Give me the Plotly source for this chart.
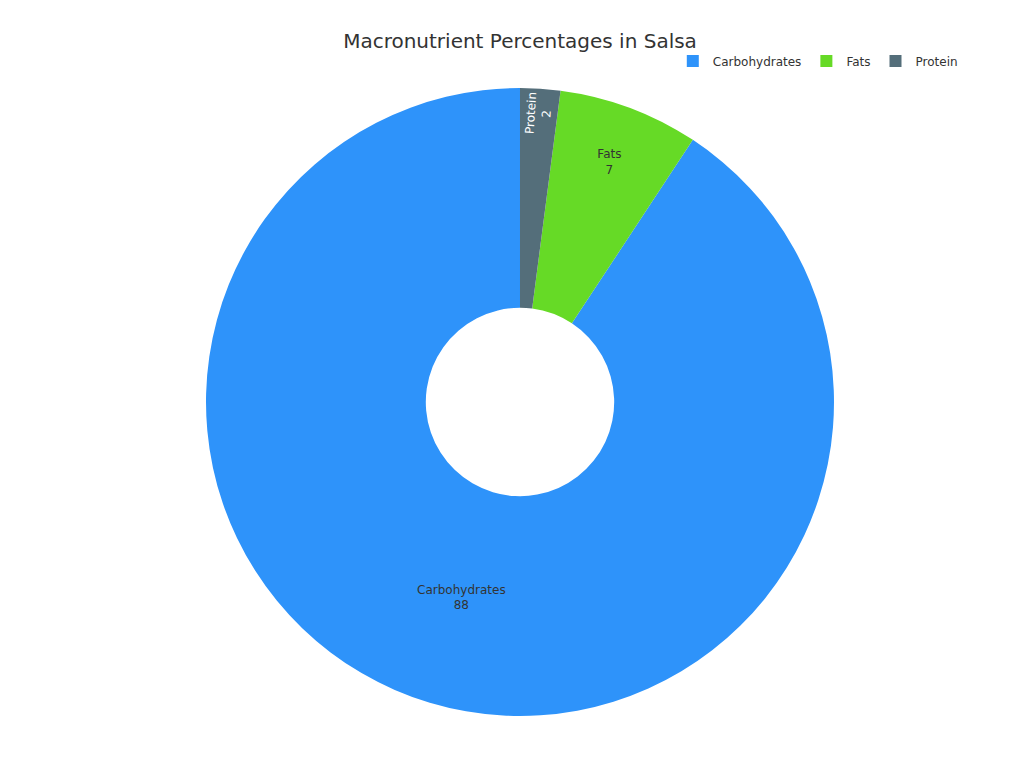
import plotly.graph_objects as go

labels = ["Carbohydrates", "Fats", "Protein"]
values = [88, 7, 2]
colors = ["#2E93FA", "#66DA26", "#546E7A"]

fig = go.Figure(go.Pie(
    labels=labels, values=values, hole=0.3, sort=False,
    direction="counterclockwise", rotation=33.4,
    marker=dict(colors=colors),
    textinfo="label+value", textposition="inside",
    insidetextfont=dict(color=["#333333", "#333333", "#ffffff"], size=12),
))
fig.update_layout(
    width=1024, height=768,
    title=dict(text="Macronutrient Percentages in Salsa", x=0.5, y=1 - 33 / 768,
               xanchor="center", yanchor="middle",
               font=dict(size=20, color="#333333")),
    font=dict(family="DejaVu Sans", color="#333333"),
    legend=dict(orientation="h", x=0.95, xanchor="right", y=1.043, yanchor="middle",
                font=dict(size=12)),
    margin=dict(t=80, b=60, l=20, r=20),
    paper_bgcolor="white",
)
fig.write_html("out.html")
